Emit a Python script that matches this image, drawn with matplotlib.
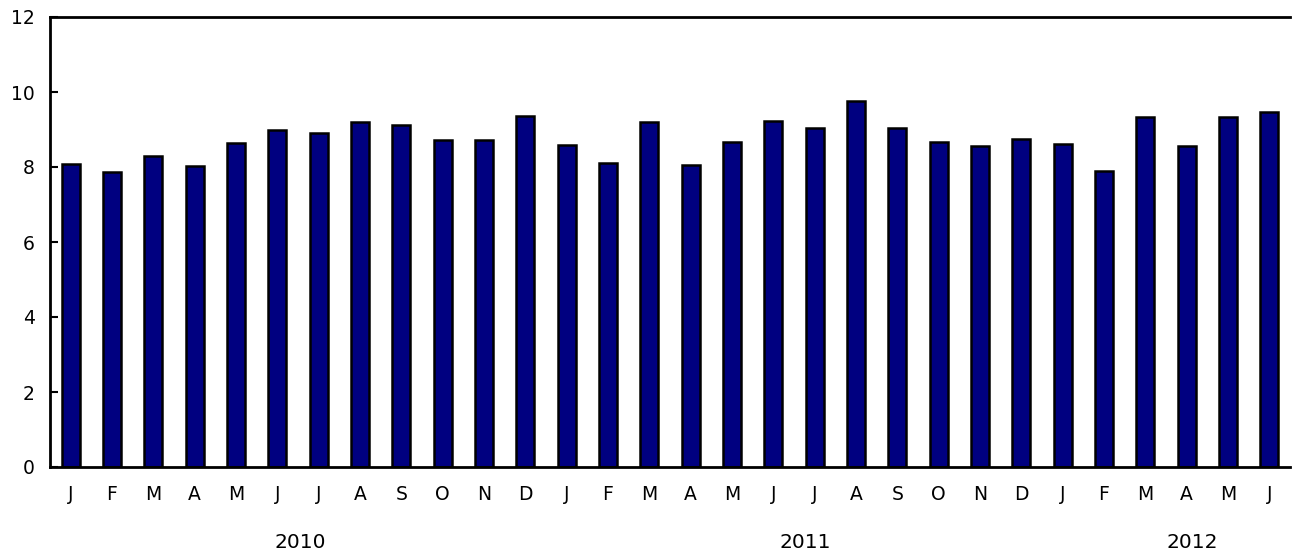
import matplotlib.pyplot as plt
import numpy as np

# monthly values, Jan 2010 - Jun 2012
months = ['J', 'F', 'M', 'A', 'M', 'J', 'J', 'A', 'S', 'O', 'N', 'D',
          'J', 'F', 'M', 'A', 'M', 'J', 'J', 'A', 'S', 'O', 'N', 'D',
          'J', 'F', 'M', 'A', 'M', 'J']
values = [8.07, 7.88, 8.30, 8.03, 8.63, 8.99, 8.91, 9.21, 9.13, 8.73, 8.71, 9.36,
          8.58, 8.10, 9.19, 8.05, 8.67, 9.22, 9.03, 9.75, 9.05, 8.67, 8.56, 8.75,
          8.61, 7.90, 9.34, 8.56, 9.34, 9.47]
years = ['2010', '2011', '2012']
year_pos = [5.55, 17.77, 27.13]

fig = plt.figure(figsize=(12.94, 5.53), dpi=100)
ax = fig.add_axes([50/1294, 86/553, 1240/1294, 450/553])

x = np.arange(len(values))
ax.bar(x, values, width=0.44, color='#000080', edgecolor='black', linewidth=1.8)

ax.set_xlim(-0.5, len(values) - 0.5)
ax.set_ylim(0, 12)
ax.set_yticks(range(0, 13, 2))
ax.set_xticks(x)
ax.set_xticklabels(months)
ax.tick_params(axis='y', direction='in', length=6, width=1.5, labelsize=13.5, pad=11)
ax.tick_params(axis='x', length=0, labelsize=13.5, pad=13)

for s in ['left', 'bottom', 'top']:
    ax.spines[s].set_linewidth(2)
ax.spines['right'].set_visible(False)

for yr, p in zip(years, year_pos):
    ax.text(p, -2.02, yr, ha='center', va='center', fontsize=14.5)

fig.savefig('out.png', dpi=100)
